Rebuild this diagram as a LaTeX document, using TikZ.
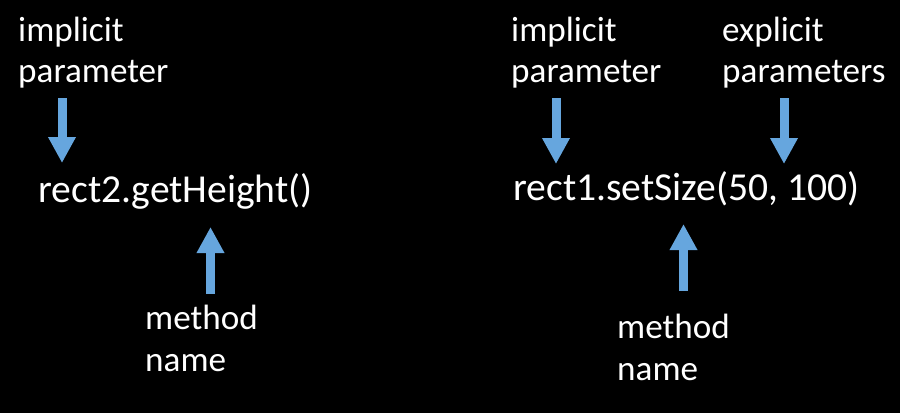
\documentclass[tikz,border=0pt]{standalone}
\usepackage{fontspec}
\setmainfont{Carlito}
\usetikzlibrary{arrows.meta}
\definecolor{arrowblue}{RGB}{102,166,222}
\tikzset{
	lbl/.style={text=white, font=\fontsize{30}{35.4}\selectfont,
		inner sep=0pt, anchor=base west},
	code/.style={lbl, font=\fontsize{33.8}{40}\selectfont},
	blockarrow/.style={arrowblue, line width=0.27cm,
		-{Triangle[width=0.78cm,length=0.78cm]}}
}
\begin{document}
\begin{tikzpicture}[x=0.03cm, y=-0.03cm]
	
	%% background
	\fill[black] (0,0) rectangle (900,413);
	
	%% left call
	\node[lbl] (implA) at (18,41) {implicit};
	\node[lbl] (implA2) at (18,82) {parameter};
	\node[code] (callA) at (38,202) {rect2.getHeight()};
	\node[lbl] (methA) at (145,329) {method};
	\node[lbl] (methA2) at (145,371) {name};
	
	%% right call
	\node[lbl] (implB) at (511,41) {implicit};
	\node[lbl] (implB2) at (511,82) {parameter};
	\node[lbl] (explB) at (722,41) {explicit};
	\node[lbl] (explB2) at (722,82) {parameters};
	\node[code] (callB) at (513,200) {rect1.setSize(50, 100)};
	\node[lbl] (methB) at (617,338) {method};
	\node[lbl] (methB2) at (617,380) {name};
	
	%% arrow ends
	\coordinate (implAtop) at (62,98);
	\coordinate (implAtip) at (62,163);
	\coordinate (methAbot) at (210.5,294);
	\coordinate (methAtip) at (210.5,227);
	\coordinate (implBtop) at (556,98);
	\coordinate (implBtip) at (556,164);
	\coordinate (explBtop) at (784,98);
	\coordinate (explBtip) at (784,164);
	\coordinate (methBbot) at (683.5,291);
	\coordinate (methBtip) at (683.5,224);
	
	%% arrows
	\draw[blockarrow] (implAtop) -- (implAtip);
	\draw[blockarrow] (methAbot) -- (methAtip);
	\draw[blockarrow] (implBtop) -- (implBtip);
	\draw[blockarrow] (explBtop) -- (explBtip);
	\draw[blockarrow] (methBbot) -- (methBtip);
	
\end{tikzpicture}
\end{document}
